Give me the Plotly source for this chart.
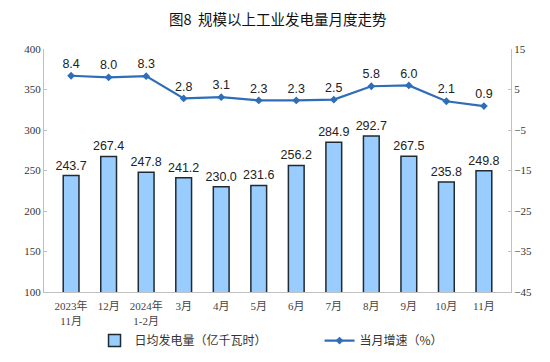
import plotly.graph_objects as go

categories = ["2023年<br>11月", "12月", "2024年<br>1-2月", "3月", "4月", "5月", "6月", "7月", "8月", "9月", "10月", "11月"]
daily_output = [243.7, 267.4, 247.8, 241.2, 230.0, 231.6, 256.2, 284.9, 292.7, 267.5, 235.8, 249.8]
growth = [8.4, 8.0, 8.3, 2.8, 3.1, 2.3, 2.3, 2.5, 5.8, 6.0, 2.1, 0.9]
left_ticks = [100, 150, 200, 250, 300, 350, 400]
right_ticks = [-45, -35, -25, -15, -5, 5, 15]

fig = go.Figure()
fig.add_trace(go.Bar(
    x=categories, y=daily_output, name="日均发电量（亿千瓦时）",
    marker=dict(color="#99CCFF", line=dict(color="#1f2a33", width=1.5)),
    width=0.42,
    text=[f"{v:.1f}" for v in daily_output], textposition="outside",
    constraintext="none",
    textfont=dict(family="Liberation Sans, Arial", size=12.5, color="#222"),
    cliponaxis=False,
))
fig.add_trace(go.Scatter(
    x=categories, y=growth, name="当月增速（%）", yaxis="y2",
    mode="lines+markers+text",
    line=dict(color="#2E6DB8", width=2.2),
    marker=dict(symbol="diamond", size=6, color="#2E6DB8"),
    text=[f"{v:.1f}" for v in growth], textposition="top center",
    textfont=dict(family="Liberation Sans, Arial", size=12.5, color="#222"),
    cliponaxis=False,
))

fig.update_layout(
    width=542, height=354,
    margin=dict(l=36, r=39, t=41, b=70, autoexpand=False),
    paper_bgcolor="white", plot_bgcolor="white",
    annotations=[dict(text="图8  规模以上工业发电量月度走势", xref="paper", yref="paper",
                      x=0.5, xanchor="center", y=1.125, yanchor="middle", showarrow=False,
                      font=dict(family="Noto Sans CJK SC", size=14.5, color="#111"))],
    xaxis=dict(showline=True, linecolor="#c0c0c0", linewidth=1, ticks="", showgrid=False,
               ticklabelstandoff=4,
               tickfont=dict(family="Liberation Serif, Noto Sans CJK SC", size=11, color="#444"), zeroline=False),
    yaxis=dict(range=[100, 400], tickvals=left_ticks, showline=True, linecolor="#c0c0c0", linewidth=1,
               showgrid=False, zeroline=False, ticks="inside", ticklen=3, tickcolor="#c0c0c0",
               tickfont=dict(family="Liberation Serif", size=11, color="#333")),
    yaxis2=dict(range=[-45, 15], tickvals=right_ticks, overlaying="y", side="right", showline=True,
                linecolor="#c0c0c0", linewidth=1, showgrid=False, zeroline=False,
                ticks="inside", ticklen=3, tickcolor="#c0c0c0",
                tickfont=dict(family="Liberation Serif", size=11, color="#333")),
    legend=dict(orientation="h", x=0.59, xanchor="center", y=-0.2, yanchor="middle",
                font=dict(family="Noto Sans CJK SC", size=12, color="#333"),
                entrywidth=180, itemwidth=30, traceorder="normal"),
    showlegend=True,
)

fig.write_html("out.html")
